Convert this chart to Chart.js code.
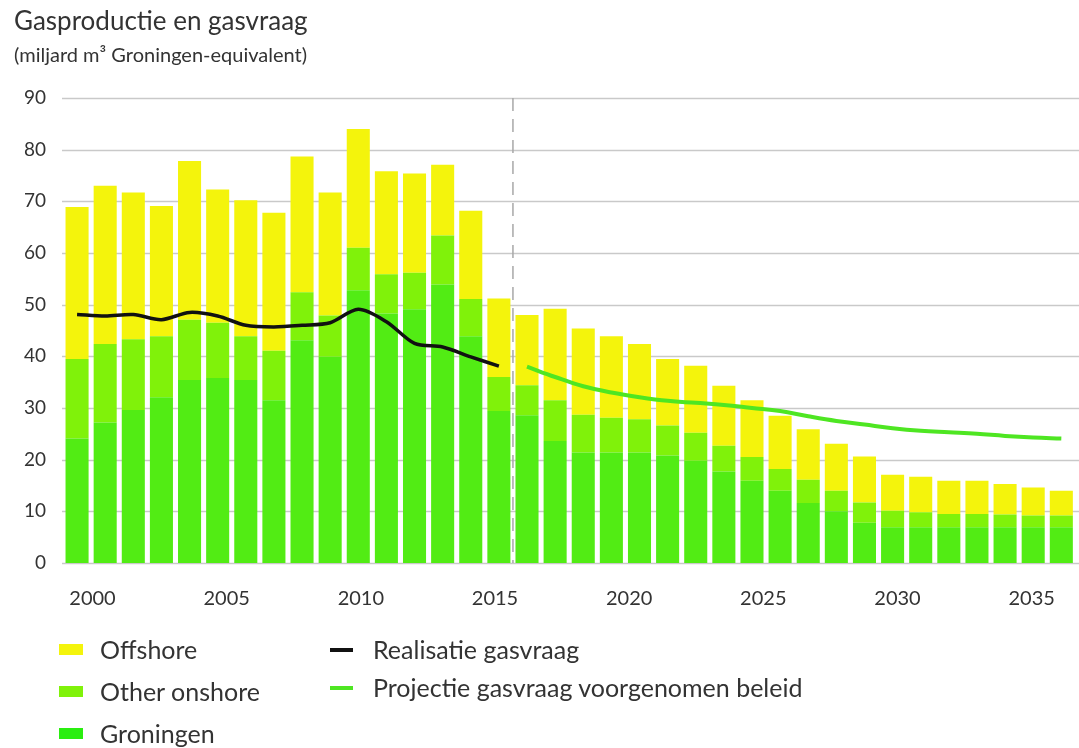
<!DOCTYPE html>
<html>
<head>
<meta charset="utf-8">
<script src="https://cdn.jsdelivr.net/npm/chart.js@4"></script>
<style>
  body { margin: 0; background: #fff; }
  #wrap { position: relative; width: 1079px; height: 748px; font-family: Lato, 'Open Sans', sans-serif; color: #333; }
  #chart { position: absolute; left: 0; top: 0; }
  .title { position: absolute; left: 14px; top: 4px; font-size: 26px; }
  .sub { position: absolute; left: 14px; top: 42px; font-size: 20px; }
  .leg { position: absolute; font-size: 25px; line-height: 28px; }
  .sw { position: absolute; width: 24px; height: 11px; }
  .ln { position: absolute; width: 23px; height: 4px; }
</style>
</head>
<body>
<div id="wrap">
  <canvas id="chart" width="1079" height="748"></canvas>
  <div class="title">Gasproductie en gasvraag</div>
  <div class="sub">(miljard m³ Groningen-equivalent)</div>

  <div class="sw" style="left:59px; top:644px; background:#f4f40c"></div>
  <div class="leg" style="left:100px; top:635px">Offshore</div>
  <div class="sw" style="left:59px; top:686px; background:#80f20a"></div>
  <div class="leg" style="left:100px; top:677px">Other onshore</div>
  <div class="sw" style="left:59px; top:728px; background:#2aee10"></div>
  <div class="leg" style="left:100px; top:719px">Groningen</div>

  <div class="ln" style="left:330px; top:648px; background:#111"></div>
  <div class="leg" style="left:373px; top:635px">Realisatie gasvraag</div>
  <div class="ln" style="left:330px; top:686px; background:#4ee622"></div>
  <div class="leg" style="left:373px; top:673px">Projectie gasvraag voorgenomen beleid</div>
</div>
<script>
const years = [2000, 2001, 2002, 2003, 2004, 2005, 2006, 2007, 2008, 2009,
  2010, 2011, 2012, 2013, 2014, 2015, 2016, 2017, 2018, 2019,
  2020, 2021, 2022, 2023, 2024, 2025, 2026, 2027, 2028, 2029,
  2030, 2031, 2032, 2033, 2034, 2035];

const groningen = [24.1, 27.2, 29.6, 32.1, 35.4, 35.8, 35.4, 31.5, 43.1, 39.9,
  52.8, 48.3, 49.1, 53.9, 43.9, 29.4, 28.6, 23.6, 21.4, 21.4,
  21.4, 20.8, 19.8, 17.7, 15.9, 14.0, 11.6, 10.0, 7.8, 6.9,
  6.9, 6.9, 6.9, 6.9, 6.9, 6.9];

const otherOnshore = [15.4, 15.2, 13.7, 11.8, 11.7, 10.7, 8.5, 9.6, 9.3, 8.0,
  8.2, 7.6, 7.1, 9.5, 7.2, 6.6, 5.8, 7.9, 7.3, 6.7,
  6.4, 5.8, 5.4, 5.0, 4.6, 4.2, 4.5, 4.0, 3.9, 3.2,
  2.9, 2.6, 2.6, 2.5, 2.3, 2.3];

const offshore = [29.4, 30.6, 28.4, 25.2, 30.7, 25.8, 26.3, 26.7, 26.3, 23.8,
  23.0, 19.9, 19.2, 13.7, 17.1, 15.2, 13.6, 17.7, 16.7, 15.8,
  14.6, 12.9, 13.0, 11.6, 11.0, 10.3, 9.8, 9.1, 8.9, 7.0,
  6.9, 6.4, 6.4, 5.9, 5.4, 4.8];

const realisatie = [48.1, 47.8, 48.1, 47.1, 48.5, 47.8, 46.0, 45.7, 46.0, 46.5,
  49.1, 46.7, 42.5, 41.8, 39.9, 38.1, null, null, null, null,
  null, null, null, null, null, null, null, null, null, null,
  null, null, null, null, null, null];

const projectie = [null, null, null, null, null, null, null, null, null, null,
  null, null, null, null, null, null, 38.0, 36.0, 34.2, 33.0,
  32.1, 31.4, 31.0, 30.6, 30.0, 29.4, 28.4, 27.5, 26.8, 26.1,
  25.6, 25.3, 25.0, 24.6, 24.3, 24.1];

const yTicks = [0, 10, 20, 30, 40, 50, 60, 70, 80, 90];
const xLabelYears = [2000, 2005, 2010, 2015, 2020, 2025, 2030, 2035];

// grid lines run to the right edge, plus the dashed 2015/2016 divider
const backdrop = {
  id: 'backdrop',
  beforeDatasetsDraw(chart) {
    const { ctx, chartArea, scales } = chart;
    ctx.save();
    ctx.strokeStyle = '#c9c9c9';
    ctx.lineWidth = 1.5;
    yTicks.forEach(v => {
      const y = Math.round(scales.y.getPixelForValue(v)) + 0.5;
      ctx.beginPath();
      ctx.moveTo(chartArea.left - 1, y);
      ctx.lineTo(chart.width, y);
      ctx.stroke();
    });
    const i = years.indexOf(2015);
    const x = (scales.x.getPixelForValue(i) + scales.x.getPixelForValue(i + 1)) / 2;
    ctx.strokeStyle = '#a8a8a8';
    ctx.setLineDash([13, 8]);
    ctx.beginPath();
    ctx.moveTo(x, scales.y.getPixelForValue(90));
    ctx.lineTo(x, scales.y.getPixelForValue(0));
    ctx.stroke();
    ctx.restore();
  }
};

new Chart(document.getElementById('chart'), {
  data: {
    labels: years,
    datasets: [
      { type: 'line', label: 'Realisatie gasvraag', data: realisatie, stack: 'real',
        borderColor: '#111', borderWidth: 3.5, pointRadius: 0, tension: 0.3, spanGaps: false },
      { type: 'line', label: 'Projectie gasvraag voorgenomen beleid', data: projectie, stack: 'proj',
        borderColor: '#4ee622', borderWidth: 4, pointRadius: 0, tension: 0.4, spanGaps: false },
      { type: 'bar', label: 'Groningen', data: groningen, backgroundColor: '#52ec14' },
      { type: 'bar', label: 'Other onshore', data: otherOnshore, backgroundColor: '#80f20a' },
      { type: 'bar', label: 'Offshore', data: offshore, backgroundColor: '#f4f40c' },
    ],
  },
  options: {
    responsive: false,
    animation: false,
    devicePixelRatio: 1,
    layout: { padding: { top: 98, right: 0, left: 0, bottom: 140 } },
    datasets: { bar: { barPercentage: 0.82, categoryPercentage: 1 } },
    plugins: { legend: { display: false }, tooltip: { enabled: false } },
    scales: {
      x: {
        stacked: true,
        display: false,
      },
      // year labels sit on their own axis, spaced as in the original
      years: {
        type: 'linear',
        position: 'bottom',
        min: 1998.9, max: 2036.63,
        grid: { display: false, drawTicks: false },
        border: { display: false },
        afterFit(scale) { scale.height = 45; },
        afterBuildTicks(scale) { scale.ticks = xLabelYears.map(v => ({ value: v })); },
        ticks: {
          autoSkip: false, maxRotation: 0, padding: 24,
          color: '#333', font: { family: 'Lato', size: 20 },
          callback: v => String(v),
        },
      },
      y: {
        stacked: true,
        min: 0, max: 90,
        grid: { display: false, drawTicks: false },
        border: { display: false },
        afterFit(scale) { scale.width = 63; },
        afterBuildTicks(scale) { scale.ticks = yTicks.map(v => ({ value: v })); },
        ticks: { padding: 17, color: '#333', font: { family: 'Lato', size: 19 } },
      },
    },
  },
  plugins: [backdrop],
});
</script>
</body>
</html>
